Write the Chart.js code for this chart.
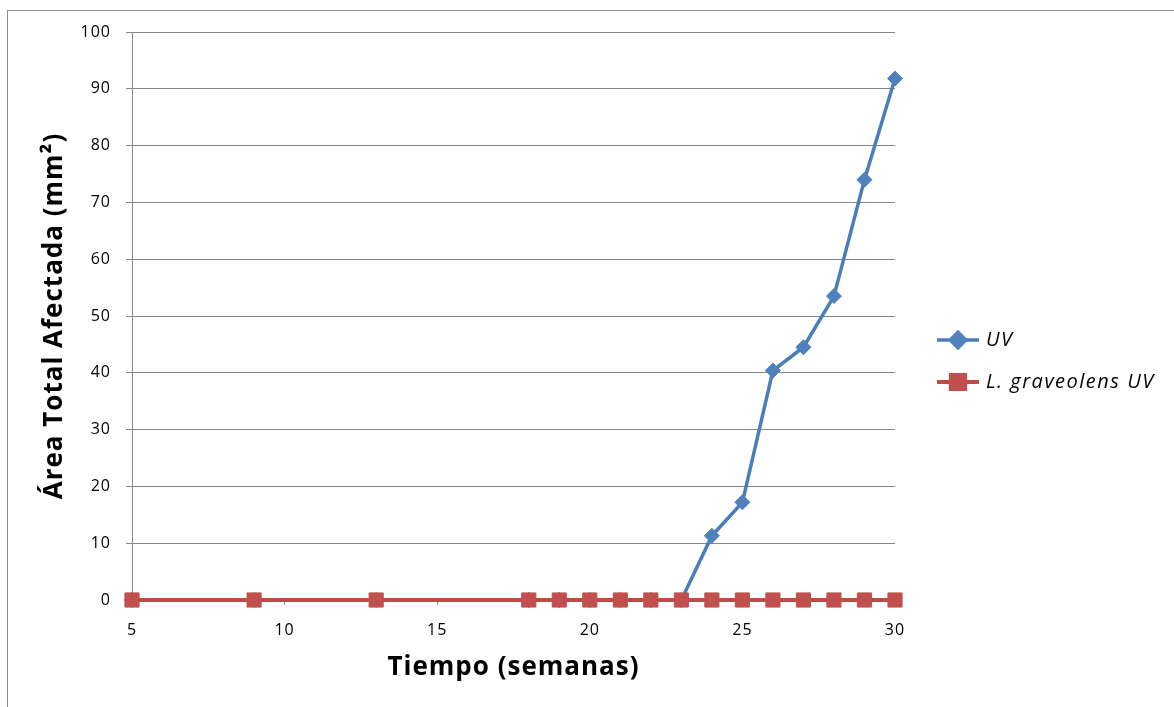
<!DOCTYPE html>
<html>
<head>
<meta charset="utf-8">
<script src="https://cdn.jsdelivr.net/npm/chart.js@4/dist/chart.umd.min.js"></script>
<style>
  html, body { margin: 0; padding: 0; background: #fff; }
  #wrap { width: 1174px; height: 707px; }
</style>
</head>
<body>
<div id="wrap"><canvas id="c" width="1174" height="707"></canvas></div>
<script>
// Tiempo en semanas
const weeks = [5, 9, 13, 18, 19, 20, 21, 22, 23, 24, 25, 26, 27, 28, 29, 30];
// Área total afectada (mm²)
const uvArea = [0, 0, 0, 0, 0, 0, 0, 0, 0, 11.3, 17.2, 40.4, 44.5, 53.5, 74.0, 91.8];
const lgUvArea = [0, 0, 0, 0, 0, 0, 0, 0, 0, 0, 0, 0, 0, 0, 0, 0];
const seriesNames = ['UV', 'L. graveolens UV'];
const xTitle = 'Tiempo (semanas)';
const yTitle = 'Área Total Afectada (mm²)';

const FONT = '"Open Sans", Lato, sans-serif';
const GRID = '#878787';

const toPoints = (xs, ys) => xs.map((x, i) => ({ x: x, y: ys[i] }));

// White background, outer frame and slightly open letter spacing for all text
const framePlugin = {
  id: 'frame',
  beforeDraw(chart) {
    const ctx = chart.ctx;
    ctx.save();
    ctx.fillStyle = '#fff';
    ctx.fillRect(0, 0, chart.width, chart.height);
    ctx.strokeStyle = '#8c8c8c';
    ctx.lineWidth = 1;
    ctx.strokeRect(7.5, 10.5, chart.width + 10, chart.height + 10);
    ctx.restore();
    ctx.letterSpacing = '1px';
  }
};

// Legend on the right: line segment with the series marker, italic label
const sideLegend = {
  id: 'sideLegend',
  afterDraw(chart) {
    const ctx = chart.ctx;
    const x0 = 937, x1 = 979, tx = 986;
    const rows = [340, 382];
    chart.data.datasets.forEach((ds, i) => {
      const y = rows[i];
      ctx.save();
      ctx.strokeStyle = ds.borderColor;
      ctx.lineWidth = ds.borderWidth;
      ctx.beginPath();
      ctx.moveTo(x0, y);
      ctx.lineTo(x1, y);
      ctx.stroke();
      Chart.helpers.drawPoint(ctx, {
        pointStyle: ds.pointStyle,
        radius: ds.pointRadius,
        borderWidth: 1,
        rotation: 0
      }, (x0 + x1) / 2, y);
      ctx.fillStyle = ds.pointBackgroundColor;
      ctx.strokeStyle = ds.pointBorderColor;
      ctx.fill();
      ctx.stroke();
      ctx.fillStyle = '#000';
      ctx.font = 'italic 20px ' + FONT;
      ctx.letterSpacing = '1.5px';
      ctx.textBaseline = 'middle';
      ctx.textAlign = 'left';
      ctx.fillText(ds.label, tx, y);
      ctx.restore();
    });
  }
};

new Chart(document.getElementById('c'), {
  type: 'line',
  data: {
    datasets: [
      {
        label: seriesNames[0],
        data: toPoints(weeks, uvArea),
        borderColor: '#4A7EBB',
        borderWidth: 3.5,
        pointStyle: 'rectRot',
        pointRadius: 7.5,
        pointBackgroundColor: '#4F81BD',
        pointBorderColor: '#4F81BD',
        pointBorderWidth: 1,
        tension: 0,
        clip: false,
        order: 1
      },
      {
        label: seriesNames[1],
        data: toPoints(weeks, lgUvArea),
        borderColor: '#BE4B48',
        borderWidth: 4,
        pointStyle: 'rect',
        pointRadius: 10,
        pointBackgroundColor: '#C0504D',
        pointBorderColor: '#C0504D',
        pointBorderWidth: 1,
        tension: 0,
        clip: false,
        order: 0
      }
    ]
  },
  options: {
    responsive: false,
    animation: false,
    devicePixelRatio: 1,
    layout: { padding: { left: 0, top: 32, right: 279, bottom: 0 } },
    plugins: {
      legend: { display: false },
      tooltip: { enabled: false }
    },
    scales: {
      x: {
        type: 'linear',
        min: 5,
        max: 30,
        afterFit(scale) { scale.height = 107; },
        ticks: {
          stepSize: 5,
          color: '#000',
          padding: 16,
          font: { family: FONT, size: 16 }
        },
        grid: {
          drawOnChartArea: false,
          color: GRID,
          tickLength: 5,
          tickColor: GRID
        },
        border: { color: GRID, width: 1 },
        title: {
          display: true,
          text: xTitle,
          color: '#000',
          font: { family: FONT, size: 26, weight: 'bold' },
          padding: { top: 0, bottom: 24 }
        }
      },
      y: {
        min: 0,
        max: 100,
        afterFit(scale) { scale.width = 132; },
        ticks: {
          stepSize: 10,
          color: '#000',
          padding: 15,
          font: { family: FONT, size: 16 }
        },
        grid: {
          color: GRID,
          lineWidth: 1,
          tickLength: 6,
          tickColor: GRID
        },
        border: { color: GRID, width: 1 },
        title: {
          display: true,
          text: yTitle,
          color: '#000',
          font: { family: FONT, size: 26, weight: 'bold' },
          padding: { top: 39, bottom: 0 }
        }
      }
    }
  },
  plugins: [framePlugin, sideLegend]
});
</script>
</body>
</html>
